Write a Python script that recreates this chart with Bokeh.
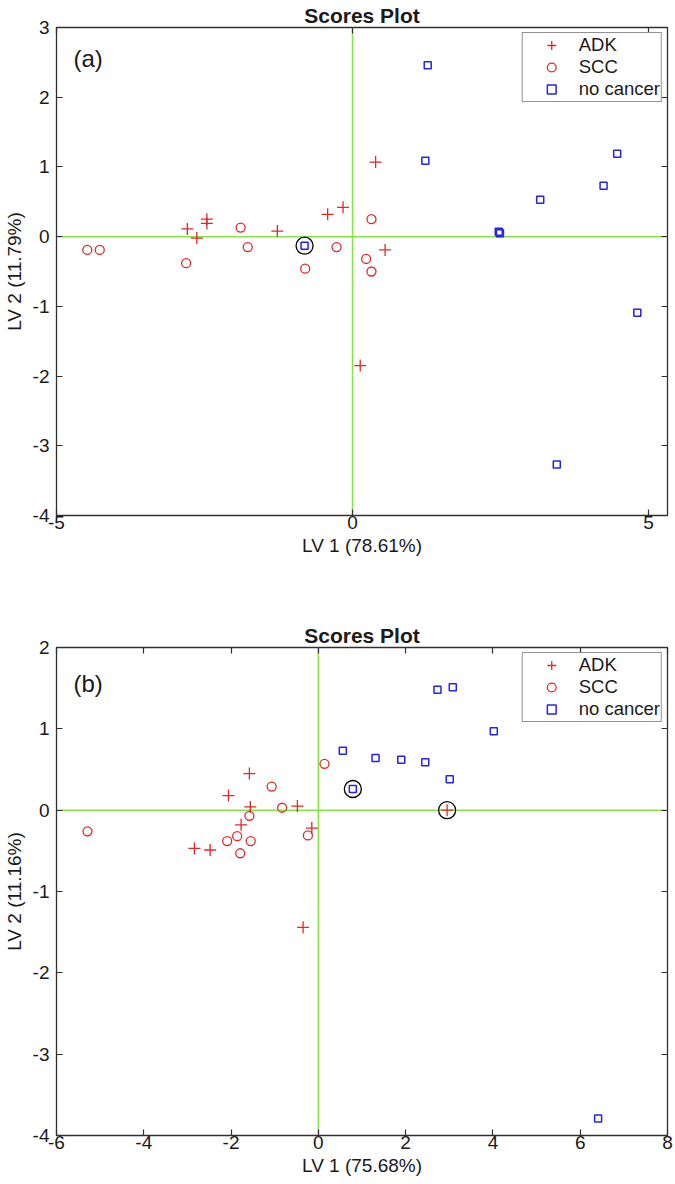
from bokeh.plotting import figure
from bokeh.models import Span, Label, LinearAxis, FixedTicker, Range1d, CustomJSTickFormatter
from bokeh.layouts import column
from bokeh.embed import file_html
from bokeh.resources import INLINE

# ---------------- data: panel (a) ----------------
a_adk_x = [-2.79, -2.63, -2.46, -2.46, -1.27, -0.42, -0.16, 0.39, 0.55, 0.13]
a_adk_y = [0.11, -0.02, 0.25, 0.19, 0.08, 0.32, 0.42, 1.07, -0.19, -1.85]
a_scc_x = [-4.48, -4.27, -2.81, -1.89, -1.77, -0.80, -0.27, 0.32, 0.23, 0.32]
a_scc_y = [-0.19, -0.19, -0.38, 0.13, -0.15, -0.46, -0.15, 0.25, -0.32, -0.50]
a_nc_x = [1.27, 1.23, 2.47, 2.49, 3.17, 4.24, 4.47, -0.81, 4.81, 3.45]
a_nc_y = [2.46, 1.09, 0.07, 0.05, 0.53, 0.73, 1.19, -0.13, -1.09, -3.27]
a_hl_x = [-0.81]
a_hl_y = [-0.13]
a_xticks = [-5, 0, 5]
a_yticks = [-4, -3, -2, -1, 0, 1, 2, 3]
a_xrange = (-5, 5.32)
a_yrange = (-4, 3)
a_xlabel = "LV 1 (78.61%)"
a_ylabel = "LV 2 (11.79%)"

# ---------------- data: panel (b) ----------------
b_adk_x = [-1.58, -2.06, -1.56, -0.48, -1.77, -0.15, -2.84, -2.48, 2.95, -0.35]
b_adk_y = [0.45, 0.18, 0.04, 0.05, -0.18, -0.22, -0.47, -0.49, 0.0, -1.44]
b_scc_x = [-5.29, -1.07, -0.83, -1.58, 0.14, -1.86, -2.09, -1.55, -1.79, -0.24]
b_scc_y = [-0.26, 0.29, 0.03, -0.07, 0.57, -0.32, -0.38, -0.38, -0.53, -0.31]
b_nc_x = [0.56, 1.31, 1.90, 2.45, 3.01, 2.73, 3.08, 4.02, 0.79, 6.41]
b_nc_y = [0.73, 0.64, 0.62, 0.59, 0.38, 1.48, 1.51, 0.97, 0.26, -3.79]
b_hl_x = [0.79, 2.95]
b_hl_y = [0.26, 0.0]
b_xticks = [-6, -4, -2, 0, 2, 4, 6, 8]
b_yticks = [-4, -3, -2, -1, 0, 1, 2]
b_xrange = (-6, 8)
b_yrange = (-4, 2)
b_xlabel = "LV 1 (75.68%)"
b_ylabel = "LV 2 (11.16%)"

labels = ["ADK", "SCC", "no cancer"]
title_text = "Scores Plot"

RED = "#de2a2a"
BLUE = "#2424e8"
GREEN = "#86e445"
SPINE = "#303030"
TEXT = "#1a1a1a"
FONT = "Liberation Sans"
FS = "19px"


def make_panel(tag, xr, yr, xticks, yticks, xlabel, ylabel,
               adk, scc, nc, hl, height, bottom, tag_off):
    p = figure(width=675, height=height, x_range=Range1d(*xr), y_range=Range1d(*yr),
               output_backend="svg", toolbar_location=None,
               min_border_left=51, min_border_right=8,
               min_border_top=27, min_border_bottom=bottom)
    p.grid.visible = False
    p.background_fill_color = "white"
    p.border_fill_color = "white"
    p.outline_line_color = SPINE
    p.outline_line_width = 1.3

    p.title.text = title_text
    p.title.align = "center"
    p.title.text_font = FONT
    p.title.text_font_size = "21px"
    p.title.text_font_style = "bold"
    p.title.text_color = TEXT
    p.title.standoff = 1

    fmt = CustomJSTickFormatter(code="return tick.toString()")
    for ax, ticks in ((p.xaxis[0], xticks), (p.yaxis[0], yticks)):
        ax.ticker = FixedTicker(ticks=ticks)
        ax.formatter = fmt
        ax.major_tick_in = 6
        ax.major_tick_out = 0
        ax.minor_tick_line_color = None
        ax.axis_line_color = SPINE
        ax.major_tick_line_color = SPINE
        ax.major_tick_line_width = 1.2
        ax.major_label_text_font = FONT
        ax.major_label_text_font_size = FS
        ax.major_label_text_color = TEXT
        ax.axis_label_text_font = FONT
        ax.axis_label_text_font_size = FS
        ax.axis_label_text_font_style = "normal"
        ax.axis_label_text_color = TEXT
    p.xaxis.axis_label = xlabel
    p.yaxis.axis_label = ylabel
    p.xaxis.major_label_standoff = 0
    p.xaxis.axis_label_standoff = 3
    p.yaxis.major_label_standoff = 7
    p.yaxis.axis_label_standoff = 5

    # inward ticks on the top and right sides of the box
    for loc, ticks in (("above", xticks), ("right", yticks)):
        ax = LinearAxis(ticker=FixedTicker(ticks=ticks),
                        formatter=CustomJSTickFormatter(code="return ''"),
                        major_tick_in=6, major_tick_out=0, major_label_standoff=0,
                        major_label_text_font_size="0px",
                        axis_line_color=None, minor_tick_line_color=None,
                        major_tick_line_color=SPINE, major_tick_line_width=1.2)
        p.add_layout(ax, loc)

    p.add_layout(Span(location=0, dimension="height", line_color=GREEN, line_width=1.5, level="underlay"))
    p.add_layout(Span(location=0, dimension="width", line_color=GREEN, line_width=1.5, level="underlay"))

    p.scatter(adk[0], adk[1], marker="cross", size=12, line_color=RED, line_width=1.3,
              legend_label=labels[0])
    p.scatter(scc[0], scc[1], marker="circle", size=9, fill_color=None, line_color=RED,
              line_width=1.3, legend_label=labels[1])
    p.scatter(nc[0], nc[1], marker="square", size=7, fill_color=None, line_color=BLUE,
              line_width=1.5, legend_label=labels[2])
    p.scatter(hl[0], hl[1], marker="circle", size=17, fill_color=None, line_color="black",
              line_width=1.3)

    lg = p.legend[0]
    lg.location = "top_right"
    lg.margin = 5
    lg.padding = 1
    lg.spacing = 0
    lg.glyph_width = 55
    lg.glyph_height = 22
    lg.label_height = 18
    lg.label_standoff = 0
    lg.label_text_font = FONT
    lg.label_text_font_size = "18.5px"
    lg.label_text_color = TEXT
    lg.border_line_color = "#262626"
    lg.border_line_width = 1.6
    lg.background_fill_color = "white"
    lg.background_fill_alpha = 1.0

    p.add_layout(Label(x=xr[0], y=yr[1], x_offset=17, y_offset=tag_off, text=tag,
                       text_align="left", text_baseline="middle",
                       text_font=FONT, text_font_size="24px", text_color=TEXT))
    return p


pa = make_panel("(a)", a_xrange, a_yrange, a_xticks, a_yticks, a_xlabel, a_ylabel,
                (a_adk_x, a_adk_y), (a_scc_x, a_scc_y), (a_nc_x, a_nc_y), (a_hl_x, a_hl_y),
                height=620, bottom=105, tag_off=-31)
pb = make_panel("(b)", b_xrange, b_yrange, b_xticks, b_yticks, b_xlabel, b_ylabel,
                (b_adk_x, b_adk_y), (b_scc_x, b_scc_y), (b_nc_x, b_nc_y), (b_hl_x, b_hl_y),
                height=564, bottom=49, tag_off=-36)

layout = column(pa, pb)
open("out.html", "w").write(file_html(layout, INLINE))
